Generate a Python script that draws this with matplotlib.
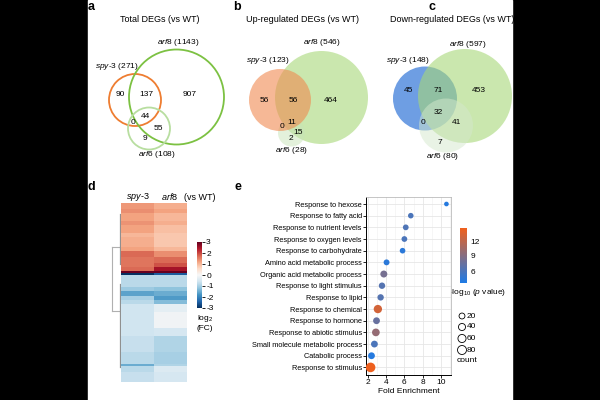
import numpy as np
import matplotlib.pyplot as plt
from matplotlib.patches import Circle, Rectangle
from matplotlib.colors import LinearSegmentedColormap, Normalize

plt.rcParams['font.family'] = ['Liberation Sans', 'DejaVu Sans']
plt.rcParams['mathtext.fontset'] = 'custom'
plt.rcParams['mathtext.it'] = 'Liberation Sans:italic'
plt.rcParams['mathtext.rm'] = 'Liberation Sans'
plt.rcParams['axes.unicode_minus'] = False

# ---- venn counts: spy-only, spy&arf8, arf8-only, all, spy&arf6, arf8&arf6, arf6-only
total_counts = [90, 137, 907, 44, 0, 55, 9]
up_counts = [56, 56, 464, 11, 0, 15, 2]
down_counts = [45, 71, 453, 32, 0, 41, 7]
venn_titles = ['Total DEGs (vs WT)', 'Up-regulated DEGs (vs WT)', 'Down-regulated DEGs (vs WT)']

# ---- heatmap (log2 FC), run-length segments top to bottom
seg_rows = [3, 2, 4, 2, 4, 2, 5, 2, 3, 3, 2, 2, 1,
            1, 6, 2, 3, 2, 2, 4, 8, 4, 8, 6, 1, 3, 5]
seg_spy3 = [1.3, 1.4, 1.2, 1.35, 1.2, 1.0, 1.1, 1.2, 1.7, 1.6, 1.6, 1.7, 3.0,
            -3.0, -0.8, -1.1, -1.6, -1.0, -0.8, -0.6, -0.6, -0.6, -0.7, -0.8, -1.5, -0.8, -0.7]
seg_arf8 = [1.1, 1.2, 1.0, 1.1, 0.9, 0.8, 0.8, 1.0, 1.4, 1.7, 1.9, 2.5, 3.0,
            -2.5, -0.8, -1.2, -1.5, -1.7, -1.3, -0.3, -0.1, -0.5, -0.9, -1.0, -0.9, -0.4, -0.5]
heat_cols = ['spy-3', 'arf8']
# dendrogram links: (row a, row b, height)
dendro_links = [(21.5, 54.0, 0.6), (5.0, 30.0, 0.1), (40.0, 82.0, 0.1)]

# ---- GO enrichment
go_terms = ['Response to hexose', 'Response to fatty acid', 'Response to nutrient levels',
            'Response to oxygen levels', 'Response to carbohydrate', 'Amino acid metabolic process',
            'Organic acid metabolic process', 'Response to light stimulus', 'Response to lipid',
            'Response to chemical', 'Response to hormone', 'Response to abiotic stimulus',
            'Small molecule metabolic process', 'Catabolic process', 'Response to stimulus']
fold_enrich = [10.6, 6.7, 6.15, 6.0, 5.8, 4.05, 3.75, 3.55, 3.4, 3.1, 2.95, 2.88, 2.72, 2.4, 2.3]
neglogp = [4.0, 6.0, 6.2, 6.0, 4.3, 4.3, 8.2, 6.5, 6.5, 13.0, 7.5, 9.8, 6.0, 4.0, 14.5]
go_count = [3, 15, 18, 18, 16, 20, 38, 28, 28, 65, 35, 52, 35, 35, 95]
size_legend = [20, 40, 60, 80]


def dot_size(c):
    return 10 + 0.4 * np.asarray(c, dtype=float)


fig = plt.figure(figsize=(6, 4), dpi=100)
fig.patch.set_facecolor('black')

# overlay axes in pixel coordinates
ov = fig.add_axes([0, 0, 1, 1])
ov.set_xlim(0, 600)
ov.set_ylim(400, 0)
ov.axis('off')
ov.add_patch(Rectangle((88, 0), 424, 400, color='white', zorder=0))

# venn panels
venn_layout = [
    dict(circ=[(135, 100, 26), (176.5, 97, 47.5), (149, 128.5, 21)],
         nums=[(120, 95), (146, 95), (190, 95), (145, 117), (133, 122), (158, 128), (145, 139)],
         labs=[(117, 67), (178, 42), (157, 155)], title=(160, 19), letter=(91, 7),
         fill=False, colors=['#ee7d31', '#7cc142', '#b8dea0'], alphas=[1, 1, 1], order=[0, 1, 2]),
    dict(circ=[(280, 100, 31), (321.5, 97.5, 46.5), (291.5, 133, 13.5)],
         nums=[(264, 100), (293, 100), (331, 100), (292, 123), (282, 127), (298, 132), (291, 138)],
         labs=[(268, 61), (322, 42), (292, 150)], title=(303, 19), letter=(237, 7),
         fill=True, colors=['#f08a50', '#a8d878', '#c8e4b8'], alphas=[0.6, 0.6, 0.5], order=[1, 2, 0]),
    dict(circ=[(425, 98.5, 32), (465, 96, 47), (446, 125.5, 27)],
         nums=[(408, 91), (438, 91), (479, 91), (438, 113), (423, 123), (456, 123), (440, 143)],
         labs=[(408, 61), (468, 44), (443, 157)], title=(452, 19), letter=(432, 7),
         fill=True, colors=['#4a86dc', '#a8d878', '#d4e8cc'], alphas=[0.8, 0.6, 0.5], order=[0, 1, 2]),
]
gene_names = [r'$\mathit{spy}$-$\mathit{3}$', r'$\mathit{arf8}$', r'$\mathit{arf6}$']

for k, (counts, lay) in enumerate(zip([total_counts, up_counts, down_counts], venn_layout)):
    sets = [counts[0] + counts[1] + counts[3] + counts[4],
            counts[1] + counts[2] + counts[3] + counts[5],
            counts[3] + counts[4] + counts[5] + counts[6]]
    for i in lay['order']:
        cx, cy, r = lay['circ'][i]
        if lay['fill']:
            c = Circle((cx, cy), r, facecolor=lay['colors'][i], alpha=lay['alphas'][i],
                       edgecolor='none', zorder=1)
        else:
            c = Circle((cx, cy), r, facecolor='none', edgecolor=lay['colors'][i], lw=1.3, zorder=1)
        ov.add_patch(c)
    for n, (x, y) in zip(counts, lay['nums']):
        ov.text(x, y, str(n), ha='center', va='center', fontsize=6, zorder=3)
    for g, s, (x, y) in zip(gene_names, sets, lay['labs']):
        ov.text(x, y, f'{g} ({s})', ha='center', va='center', fontsize=6, zorder=3)
    ov.text(*lay['title'], venn_titles[k], ha='center', va='center', fontsize=6.5)
    ov.text(*lay['letter'], 'abc'[k], ha='center', va='center', fontsize=9, fontweight='bold')

ov.text(91, 187, 'd', ha='center', va='center', fontsize=9, fontweight='bold')
ov.text(238, 187, 'e', ha='center', va='center', fontsize=9, fontweight='bold')

# ---- heatmap
heat = np.column_stack([np.repeat(seg_spy3, seg_rows), np.repeat(seg_arf8, seg_rows)])
nrows = heat.shape[0]
axh = fig.add_axes([121 / 600, 18 / 400, 66 / 600, 179 / 400])
im = axh.imshow(heat, cmap='RdBu_r', vmin=-3, vmax=3, aspect='auto', interpolation='nearest')
axh.axis('off')
ov.text(138, 197, r'$\mathit{spy}$-$\mathit{3}$', ha='center', va='center', fontsize=6.5)
ov.text(170, 197, r'$\mathit{arf8}$', ha='center', va='center', fontsize=6.5)
ov.text(200, 197, '(vs WT)', ha='center', va='center', fontsize=6.5)

axd = fig.add_axes([106 / 600, 18 / 400, 15 / 600, 179 / 400])
axd.set_xlim(1.0, 0)
axd.set_ylim(nrows - 0.5, -0.5)
axd.axis('off')
for ya, yb, h in dendro_links:
    if h > 0.5:
        axd.plot([h, h], [ya, yb], color='#b0b0b0', lw=0.8)
        axd.plot([0.1, h], [ya, ya], color='#b0b0b0', lw=0.8)
        axd.plot([0.1, h], [yb, yb], color='#b0b0b0', lw=0.8)
    else:
        axd.plot([h, h], [ya, yb], color='#909090', lw=0.9)

cbh = fig.add_axes([197 / 600, (400 - 308) / 400, 5 / 600, 66 / 400])
cb1 = fig.colorbar(im, cax=cbh, ticks=[3, 2, 1, 0, -1, -2, -3])
cb1.outline.set_visible(False)
cbh.tick_params(labelsize=6, length=2, width=0.6, pad=1)
ov.text(205, 318, r'log$_2$', ha='center', va='center', fontsize=6)
ov.text(205, 328, '(FC)', ha='center', va='center', fontsize=6)

# ---- GO dot plot
cmap_go = LinearSegmentedColormap.from_list('go', ['#1e7be6', '#f0601c'])
norm_go = Normalize(vmin=3.6, vmax=14.6)
axe = fig.add_axes([366 / 600, 25 / 400, 85 / 600, 178 / 400])
ypos = np.arange(len(go_terms))[::-1]
sc = axe.scatter(fold_enrich, ypos, s=dot_size(go_count), c=neglogp, cmap=cmap_go, norm=norm_go,
                 edgecolors='none', zorder=3)
axe.set_xlim(1.8, 11.1)
axe.set_ylim(-0.65, len(go_terms) - 0.4)
axe.set_xticks([2, 4, 6, 8, 10])
axe.set_xticks([3, 5, 7, 9, 11], minor=True)
axe.set_yticks(ypos)
axe.set_yticklabels(go_terms, fontsize=5.3)
axe.tick_params(axis='x', labelsize=6, length=2, width=0.6, pad=1)
axe.tick_params(axis='y', length=2, width=0.6, pad=1)
axe.tick_params(which='minor', length=0)
axe.grid(True, which='major', color='#e6e6e6', lw=0.6)
axe.grid(True, which='minor', axis='x', color='#f0f0f0', lw=0.4)
axe.set_axisbelow(True)
for sp in ['top', 'right']:
    axe.spines[sp].set_color('#bbbbbb')
    axe.spines[sp].set_linewidth(0.6)
for sp in ['left', 'bottom']:
    axe.spines[sp].set_linewidth(0.7)
axe.set_xlabel('Fold Enrichment', fontsize=6, labelpad=1)

cbe = fig.add_axes([460 / 600, (400 - 283) / 400, 7 / 600, 55 / 400])
cb2 = fig.colorbar(sc, cax=cbe, ticks=[6, 9, 12])
cb2.outline.set_visible(False)
cbe.tick_params(labelsize=6, length=1.5, width=0.5, color='white', pad=1)
ov.text(478, 292, r'-log$_{10}$ ($\mathit{p}$ value)', ha='center', va='center', fontsize=6)

leg_y = [316, 327, 338.5, 350]
ov.scatter([462] * len(size_legend), leg_y, s=dot_size(size_legend), facecolors='none',
           edgecolors='black', linewidths=0.6)
for v, y in zip(size_legend, leg_y):
    ov.text(467, y, str(v), ha='left', va='center', fontsize=6)
ov.text(467, 361, 'count', ha='center', va='center', fontsize=6)

fig.savefig('out.png', dpi=100, facecolor=fig.get_facecolor())
